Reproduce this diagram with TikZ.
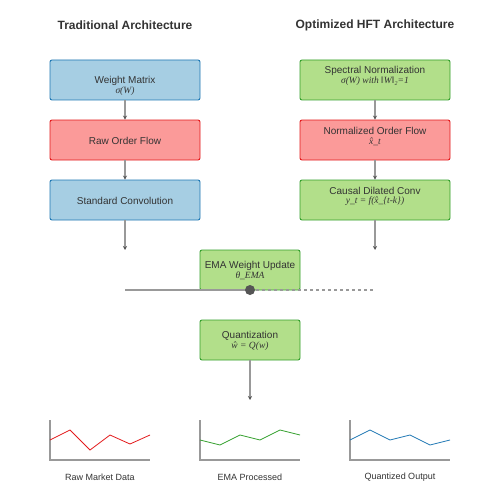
\documentclass[tikz,border=0pt]{standalone}
\usepackage{fontspec}
\setmainfont{Liberation Sans}
\newfontfamily\frmfont{Liberation Serif}
\usetikzlibrary{arrows.meta}
\definecolor{bfill}{HTML}{A6CEE3}\definecolor{bdraw}{HTML}{1F78B4}
\definecolor{rfill}{HTML}{FB9A99}\definecolor{rdraw}{HTML}{E31A1C}
\definecolor{gfill}{HTML}{B2DF8A}\definecolor{gdraw}{HTML}{33A02C}
\definecolor{txt}{HTML}{333333}\definecolor{conn}{HTML}{999999}
\definecolor{dotc}{HTML}{555555}
\tikzset{
  box/.style={draw, rounded corners=2pt, line width=0.9pt, minimum width=150pt, minimum height=40pt, inner sep=0pt},
  smallbox/.style={box, minimum width=100pt},
  bluebox/.style={fill=bfill, draw=bdraw},
  redbox/.style={fill=rfill, draw=rdraw},
  greenbox/.style={fill=gfill, draw=gdraw},
  lbl/.style={text=txt, font=\fontsize{10}{12}\selectfont, inner sep=0pt},
  frm/.style={text=txt, font=\frmfont\itshape\fontsize{9.5}{11}\selectfont, inner sep=0pt},
  ttl/.style={text=txt, font=\bfseries\fontsize{12}{14}\selectfont, inner sep=0pt},
  chartlbl/.style={text=txt, font=\fontsize{9}{11}\selectfont, inner sep=0pt},
  conn/.style={draw=conn, line width=1.2pt},
  arr/.style={conn, -{Stealth[length=4pt,width=4pt,color=dotc]}},
  axis/.style={draw=conn, line width=1.2pt},
}
\begin{document}
\begin{tikzpicture}[x=1pt,y=-1pt]
\useasboundingbox[fill=white] (0,0) rectangle (500,500);
% titles
\node[ttl] (t1) at (125,25) {Traditional Architecture};
\node[ttl] (t2) at (375,25) {Optimized HFT Architecture};
% left column
\node[box,bluebox] (wm) at (125,80) {};
\node[lbl] (wmt) at (125,81) {Weight Matrix};
\node[frm] (wmf) at (125,91) {σ(W)};
\node[box,redbox] (rof) at (125,140) {};
\node[lbl] (roft) at (125,141) {Raw Order Flow};
\node[box,bluebox] (sc) at (125,200) {};
\node[lbl] (sct) at (125,201) {Standard Convolution};
% right column
\node[box,greenbox] (sn) at (375,80) {};
\node[lbl] (snt) at (375,71) {Spectral Normalization};
\node[frm] (snf) at (375,81) {σ(W) with ‖W‖₂=1};
\node[box,redbox] (nof) at (375,140) {};
\node[lbl] (noft) at (375,131) {Normalized Order Flow};
\node[frm] (noff) at (375,142) {x̂\_t};
\node[box,greenbox] (cdc) at (375,200) {};
\node[lbl] (cdct) at (375,191) {Causal Dilated Conv};
\node[frm] (cdcf) at (375,201) {y\_t = f(x̂\_\{t-k\})};
% center
\node[smallbox,greenbox] (ema) at (250,270) {};
\node[lbl] (emat) at (250,266) {EMA Weight Update};
\node[frm] (emaf) at (250,276) {θ\_EMA};
\node[smallbox,greenbox] (q) at (250,340) {};
\node[lbl] (qt) at (250,336) {Quantization};
\node[frm] (qf) at (250,346) {ŵ = Q(w)};
% connector endpoints
\coordinate (le) at (125,250);
\coordinate (re) at (375,250);
\coordinate (hl) at (125,290);
\coordinate (hr) at (375,290);
\coordinate (hm) at (250,290);
\coordinate (qe) at (250,400);
% arrows
\draw[arr] (wm.south) -- (rof.north);
\draw[arr] (rof.south) -- (sc.north);
\draw[arr] (sc.south) -- (le);
\draw[arr] (sn.south) -- (nof.north);
\draw[arr] (nof.south) -- (cdc.north);
\draw[arr] (cdc.south) -- (re);
\draw[arr] (q.south) -- (qe);
\draw[conn] (hl) -- (hm);
\draw[conn, dash pattern=on 3pt off 3pt] (hm) -- (hr);
\fill[dotc] (hm) circle (5pt);
% charts
\draw[axis] (50,420) -- (50,460) -- (150,460);
\draw[draw=rdraw, line width=0.8pt] (50,440) -- (70,430) -- (90,450) -- (110,435) -- (130,444) -- (150,435);
\draw[axis] (200,420) -- (200,460) -- (300,460);
\draw[draw=gdraw, line width=0.8pt] (200,440) -- (220,445) -- (240,435) -- (260,440) -- (280,430) -- (300,435);
\draw[axis] (350,420) -- (350,460) -- (450,460);
\draw[draw=bdraw, line width=0.8pt] (350,440) -- (370,430) -- (390,440) -- (410,435) -- (430,445) -- (450,440);
\node[chartlbl] (c1) at (100,477) {Raw Market Data};
\node[chartlbl] (c2) at (250,477) {EMA Processed};
\node[chartlbl] (c3) at (400,477) {Quantized Output};
\end{tikzpicture}
\end{document}
